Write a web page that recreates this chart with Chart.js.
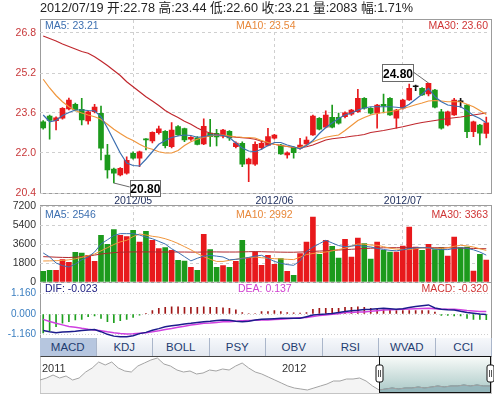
<!DOCTYPE html>
<html>
<head>
<meta charset="utf-8">
<title>K线图</title>
<script src="https://cdn.jsdelivr.net/npm/chart.js@4.4.1/dist/chart.umd.min.js"></script>
<style>
  body { margin: 0; background: #fff; }
  #wrap { position: relative; width: 494px; height: 396px; overflow: hidden;
    font-family: Arial, "Liberation Sans", "Noto Sans CJK SC", sans-serif; }
  #wrap canvas { position: absolute; left: 0; top: 0; }
  .box { position: absolute; box-sizing: border-box; border: 1px solid #9c9c9c; }
  .lbl { position: absolute; font-size: 10.5px; line-height: 12px; white-space: nowrap; }
  #title { position: absolute; left: 40px; top: 0; font-size: 12.7px; line-height: 16px; color: #222; white-space: nowrap; }
  #tabs { position: absolute; left: 40px; top: 338px; width: 452px; height: 18px; display: flex; }
  #tabs div { flex: 1; text-align: center; font-size: 11.5px; line-height: 18px; color: #1e3c70;
    background: linear-gradient(#f6f8fb, #e3e8f0); border-right: 1px solid #aab6ca; box-sizing: border-box; }
  #tabs div.on { background: #b6c6df; }
</style>
</head>
<body>
<div id="wrap">
  <div class="box" style="left:40px;top:19px;width:452px;height:175px;"></div>
  <div class="box" style="left:40px;top:205px;width:452px;height:78px;"></div>
  <div class="box" style="left:40px;top:282px;width:452px;height:57px;"></div>
  <div class="box" style="left:40px;top:356px;width:452px;height:38px;border-color:#c4c4c4;border-top-color:#444;"></div>

  <canvas id="price" width="494" height="396"></canvas>
  <canvas id="vol" width="494" height="396"></canvas>
  <canvas id="macd" width="494" height="396"></canvas>
  <canvas id="nav" width="494" height="396"></canvas>

  <div id="title">2012/07/19 开:22.78 高:23.44 低:22.60 收:23.21 量:2083 幅:1.71%</div>

  <div class="lbl" style="left:45px;top:19px;color:#3c6fb0;">MA5: 23.21</div>
  <div class="lbl" style="left:236px;top:19px;color:#e8883a;">MA10: 23.54</div>
  <div class="lbl" style="right:6px;top:19px;color:#cf3535;">MA30: 23.60</div>

  <div class="lbl" style="left:45px;top:208px;color:#3c6fb0;">MA5: 2546</div>
  <div class="lbl" style="left:236px;top:208px;color:#e8883a;">MA10: 2992</div>
  <div class="lbl" style="right:6px;top:208px;color:#cf3535;">MA30: 3363</div>

  <div class="lbl" style="left:45px;top:282px;color:#1c1c80;">DIF: -0.023</div>
  <div class="lbl" style="left:238px;top:282px;color:#d040d0;">DEA: 0.137</div>
  <div class="lbl" style="right:6px;top:282px;color:#cf3535;">MACD: -0.320</div>

  <div id="tabs">
    <div class="on">MACD</div><div>KDJ</div><div>BOLL</div><div>PSY</div>
    <div>OBV</div><div>RSI</div><div>WVAD</div><div>CCI</div>
  </div>

  <div class="lbl" style="left:42px;top:362px;color:#333;font-size:11px;">2011</div>
  <div class="lbl" style="left:282px;top:362px;color:#333;font-size:11px;">2012</div>
</div>

<script>
// trading days shown in the main window
const dates = [
  '2012/04/10','2012/04/11','2012/04/12','2012/04/13','2012/04/16','2012/04/17','2012/04/18',
  '2012/04/19','2012/04/20','2012/04/23','2012/04/24','2012/04/25','2012/04/26','2012/04/27',
  '2012/05/02','2012/05/03','2012/05/04','2012/05/07','2012/05/08','2012/05/09','2012/05/10',
  '2012/05/11','2012/05/14','2012/05/15','2012/05/16','2012/05/17','2012/05/18','2012/05/21',
  '2012/05/22','2012/05/23','2012/05/24','2012/05/25','2012/05/28','2012/05/29','2012/05/30',
  '2012/05/31','2012/06/01','2012/06/04','2012/06/05','2012/06/06','2012/06/07','2012/06/08',
  '2012/06/11','2012/06/12','2012/06/13','2012/06/14','2012/06/15','2012/06/18','2012/06/19',
  '2012/06/20','2012/06/21','2012/06/25','2012/06/26','2012/06/27','2012/06/28','2012/06/29',
  '2012/07/02','2012/07/03','2012/07/04','2012/07/05','2012/07/06','2012/07/09','2012/07/10',
  '2012/07/11','2012/07/12','2012/07/13','2012/07/16','2012/07/17','2012/07/18','2012/07/19'
];

const open = [23.25,23.48,23.29,23.39,23.76,23.95,23.75,23.28,23.65,23.59,
  21.92,21.36,21.12,21.19,21.99,21.79,22.57,22.48,22.81,22.87,
  22.25,23.06,22.98,22.55,22.61,22.36,22.80,22.79,22.67,22.87,
  22.25,22.39,21.56,21.55,22.21,22.30,22.59,22.32,21.92,22.23,
  22.19,22.36,22.72,23.39,23.03,23.43,23.43,23.45,23.55,23.65,
  24.19,23.79,23.59,23.95,24.19,23.39,23.79,24.12,24.65,24.59,
  24.36,24.52,23.65,23.12,23.52,24.05,23.92,22.85,23.12,22.78];
const high = [23.30,23.52,23.45,23.82,24.20,24.00,24.19,23.68,23.95,23.88,
  22.35,21.40,21.42,21.85,22.05,22.08,22.58,22.85,23.08,22.90,
  23.22,23.10,23.00,22.66,22.66,23.37,23.35,22.95,22.95,22.90,
  22.45,22.45,21.80,22.45,22.50,22.99,22.75,22.35,22.05,22.26,
  22.59,22.65,23.52,23.42,23.69,23.92,23.60,23.65,23.75,24.55,
  24.22,23.82,23.95,24.36,24.22,23.75,24.15,24.76,24.72,24.62,
  24.80,24.55,23.75,23.68,24.19,24.19,23.95,23.28,23.15,23.44];
const low = [22.95,22.55,22.92,23.35,23.72,23.68,23.12,23.15,23.60,21.72,
  20.99,20.80,21.08,21.15,21.75,21.45,22.12,22.40,22.75,22.20,
  22.20,22.70,22.45,22.50,22.32,22.33,22.26,22.28,22.60,22.50,
  22.20,21.45,20.85,21.50,22.15,22.28,22.55,21.94,21.79,21.79,
  22.15,22.33,22.70,22.92,23.00,23.00,23.15,23.40,23.50,23.62,
  23.75,23.55,22.99,23.60,23.50,22.99,23.75,24.10,24.49,24.30,
  24.28,23.80,22.95,23.08,23.50,23.83,22.61,22.65,22.32,22.60];
const close = [23.00,23.30,23.41,23.79,24.12,23.72,23.32,23.65,23.84,22.19,
  21.32,21.19,21.39,21.71,21.79,22.05,22.52,22.83,22.97,22.29,
  22.92,22.72,22.52,22.63,22.34,23.07,22.65,22.64,22.92,22.60,
  22.40,21.55,21.76,22.35,22.39,22.66,22.72,21.96,22.01,22.01,
  22.32,22.52,23.48,22.95,23.52,23.03,23.19,23.61,23.72,24.19,
  23.79,23.59,23.92,23.88,23.52,23.72,24.12,24.59,24.65,24.32,
  24.79,23.83,22.99,23.65,24.12,24.05,22.85,23.25,22.79,23.21];

const ma5 = [23.52,23.25,23.30,23.50,23.62,23.72,23.72,23.70,23.69,23.45,
  23.00,22.50,22.00,21.60,21.50,21.48,21.75,22.05,22.35,22.50,
  22.62,22.68,22.72,22.70,22.63,22.65,22.72,22.72,22.70,22.62,
  22.40,22.20,22.08,22.05,22.15,22.30,22.42,22.42,22.32,22.25,
  22.17,22.30,22.50,22.78,23.02,23.20,23.38,23.52,23.60,23.72,
  23.80,23.85,23.85,23.85,23.85,23.83,23.80,23.95,24.15,24.35,
  24.58,24.25,24.05,23.92,23.88,23.85,23.70,23.50,23.38,23.21];
const ma10 = [24.95,24.60,24.30,24.05,23.85,23.70,23.60,23.52,23.45,23.35,
  23.15,22.95,22.78,22.62,22.50,22.35,22.22,22.15,22.05,22.00,
  22.00,22.10,22.30,22.45,22.55,22.63,22.68,22.71,22.72,22.68,
  22.65,22.63,22.62,22.60,22.50,22.42,22.35,22.30,22.26,22.23,
  22.22,22.32,22.45,22.55,22.63,22.68,22.72,22.90,23.10,23.30,
  23.42,23.52,23.58,23.62,23.65,23.70,23.78,23.85,23.93,24.00,
  24.08,24.10,24.08,24.05,24.05,24.05,23.95,23.85,23.70,23.54];
const ma30 = [26.68,26.58,26.48,26.36,26.26,26.16,26.06,25.99,25.85,25.68,
  25.50,25.30,25.10,24.85,24.65,24.45,24.25,24.08,23.90,23.70,
  23.55,23.42,23.27,23.15,23.00,22.88,22.80,22.74,22.70,22.66,
  22.63,22.61,22.59,22.55,22.47,22.40,22.35,22.30,22.26,22.22,
  22.21,22.25,22.32,22.42,22.52,22.57,22.60,22.63,22.67,22.70,
  22.74,22.82,22.86,22.90,22.95,23.00,23.05,23.11,23.17,23.22,
  23.26,23.30,23.34,23.38,23.41,23.44,23.48,23.52,23.56,23.60];

const volume = [1010,1105,1105,2115,1863,2810,2747,2526,1958,4420,
  3568,4958,4420,4295,4895,3789,4800,3947,3158,3253,
  3000,2052,1989,1389,1105,4516,3063,1389,1547,1389,
  1958,3947,2300,2842,1579,2526,1674,2210,1010,632,
  2684,3789,6158,2621,3947,3379,2274,4042,2368,4168,
  3632,2179,3789,3000,2842,2842,3411,5211,3316,3000,
  3568,3063,3253,2463,4263,3253,3316,1042,2621,2083];
const volMa5 = [2750,2370,1800,1550,1420,1700,2100,2370,2840,3600,
  4000,4400,4580,4580,4580,4450,4250,4100,3850,3600,
  3150,2800,2400,2000,2250,2450,2520,2450,2370,2100,
  2150,2210,2330,2450,2530,2250,1950,1780,1650,1580,
  2000,2900,3300,3630,3950,3700,3450,3350,3400,3480,
  3380,3320,3180,3080,3000,2950,3050,3160,3240,3250,
  3250,3120,3070,3070,3180,3250,3180,3050,2840,2546];
const volMa10 = [1990,2000,2020,2040,2100,2200,2330,2500,2650,2950,
  3250,3550,3800,3950,4300,4550,4450,4330,4250,4100,
  3900,3650,3350,3050,2700,2400,2150,1950,1950,2050,
  2150,2250,2300,2370,2300,2250,2210,2180,2150,2120,
  2350,2600,2700,2780,2840,2950,3080,3200,3400,3600,
  3580,3500,3480,3350,3200,3120,3080,3070,3150,3240,
  3220,3180,3160,3250,3380,3480,3420,3320,3150,2992];
const volMa30 = [2400,2380,2350,2330,2320,2350,2400,2450,2550,2650,
  2720,2780,2820,2840,2850,2850,2850,2850,2840,2840,
  2840,2840,2840,2830,2830,2840,2850,2850,2840,2840,
  2840,2850,2870,2880,2870,2850,2840,2830,2820,2820,
  2840,2860,2900,2930,2960,3000,3030,3070,3100,3140,
  3170,3200,3220,3240,3250,3250,3250,3260,3260,3250,
  3250,3250,3240,3240,3230,3220,3200,3180,3160,3150];

const dif = [-0.93,-1.00,-1.05,-1.01,-0.99,-0.97,-0.93,-0.90,-0.87,-0.99,
  -1.14,-1.24,-1.27,-1.28,-1.22,-1.10,-1.03,-0.91,-0.82,-0.71,
  -0.66,-0.61,-0.56,-0.52,-0.47,-0.43,-0.40,-0.36,-0.33,-0.35,
  -0.40,-0.43,-0.40,-0.34,-0.30,-0.28,-0.26,-0.24,-0.24,-0.24,
  -0.24,-0.15,-0.06,-0.02,0.00,0.03,0.08,0.14,0.19,0.21,
  0.25,0.27,0.30,0.32,0.30,0.27,0.29,0.36,0.42,0.47,
  0.51,0.34,0.27,0.24,0.23,0.15,0.08,0.04,0.00,-0.023];
const dea = [-0.30,-0.42,-0.52,-0.61,-0.70,-0.74,-0.80,-0.85,-0.89,-0.94,
  -1.00,-1.05,-1.09,-1.12,-1.11,-1.08,-1.05,-1.00,-0.94,-0.87,
  -0.81,-0.74,-0.68,-0.62,-0.58,-0.52,-0.50,-0.47,-0.44,-0.43,
  -0.40,-0.38,-0.36,-0.35,-0.33,-0.33,-0.31,-0.30,-0.27,-0.24,
  -0.21,-0.19,-0.14,-0.09,-0.05,-0.02,0.02,0.08,0.09,0.11,
  0.12,0.15,0.19,0.22,0.24,0.25,0.27,0.28,0.30,0.31,
  0.32,0.29,0.27,0.27,0.27,0.24,0.20,0.17,0.14,0.137];
const macdHist = [-1.06,-0.93,-0.71,-0.52,-0.43,-0.33,-0.30,-0.15,-0.11,-0.24,
  -0.43,-0.49,-0.37,-0.30,-0.19,-0.06,0.02,0.19,0.32,0.37,
  0.41,0.41,0.37,0.37,0.37,0.41,0.37,0.37,0.35,0.32,
  0.23,0.08,0.03,0.03,0.13,0.13,0.19,0.13,0.08,0.06,
  0.05,0.08,0.27,0.32,0.32,0.32,0.32,0.37,0.37,0.41,
  0.37,0.32,0.27,0.23,0.23,0.19,0.19,0.19,0.19,0.19,
  0.19,0.11,-0.08,-0.08,-0.11,-0.11,-0.24,-0.30,-0.30,-0.32];

// navigator: long history 2011 - 2012/07 (relative level)
const navValues = [15,17,20,17,19,15,17,23,27,33,30,33,27,24,23,29,32,35,37,31,
  29,25,23,24,21,22,25,24,26,25,29,32,27,23,21,18,15,12,9,7,
  6,5,7,9,11,14,14,16,16,17,14,9,5,6,7,6,7,7,8,7,
  8,9,8,9,9,10,9,10,9,9];
const navSelStart = 52;

const priceTicks = [20.4, 22.0, 23.6, 25.2, 26.8];
const volTicks = [0, 1800, 3600, 5400, 7200];
const macdTicks = [-1.16, 0, 1.16];

const RED = '#e8191c', GREEN = '#1c9a1c', DOJI = '#111111';
const GRID = '#cfcfcf';

const candleColor = close.map((c, i) => c > open[i] ? RED : (c < open[i] ? GREEN : DOJI));
const volColor = close.map((c, i) => c > open[i] ? RED : (c < open[i] ? GREEN : (c >= close[i - 1] ? RED : GREEN)));
const isMonthStart = i => i > 0 && dates[i].slice(5, 7) !== dates[i - 1].slice(5, 7);

function baseOptions(padTop, padBottom) {
  return {
    responsive: false,
    animation: false,
    events: [],
    layout: { padding: { top: padTop, bottom: padBottom, left: 0, right: 4.5 } },
    plugins: { legend: { display: false }, tooltip: { enabled: false } }
  };
}

function lineSet(data, color, width) {
  return { type: 'line', data: data, borderColor: color, borderWidth: width || 1.2,
    pointRadius: 0, tension: 0, fill: false, order: 0 };
}

function monthXAxis(showLabels) {
  return {
    offset: true,
    grid: { offset: false, drawTicks: false, color: c => isMonthStart(c.index) ? GRID : 'transparent' },
    border: { display: false, dash: [3, 3] },
    ticks: {
      display: showLabels, autoSkip: false, maxRotation: 0, padding: 2,
      color: '#1c2c5c', font: { size: 10.5 },
      callback: (v, i) => isMonthStart(i) ? dates[i].slice(0, 7) : ''
    },
    afterFit: s => { s.height = showLabels ? 17 : 0; }
  };
}

function fixedYAxis(min, max, ticks, color, fmt, dash) {
  return {
    min: min, max: max,
    afterBuildTicks: ax => { ax.ticks = ticks.map(v => ({ value: v })); },
    afterFit: s => { s.width = 40; },
    grid: { color: GRID, drawTicks: false },
    border: { display: false, dash: dash },
    ticks: { padding: 4, color: color, font: { size: 10.5 }, callback: fmt }
  };
}

// labels for highest / lowest price
function drawTag(ctx, bx, by, w, h, text, lx, ly, px, py) {
  ctx.strokeStyle = '#6a6a6a';
  ctx.lineWidth = 1;
  ctx.beginPath();
  ctx.moveTo(px, py);
  ctx.lineTo(lx, ly);
  ctx.stroke();
  ctx.fillStyle = '#fff';
  ctx.fillRect(bx, by, w, h);
  ctx.strokeRect(Math.round(bx) + 0.5, Math.round(by) + 0.5, w - 1, h - 1);
  ctx.fillStyle = '#000';
  ctx.fillText(text, bx + w / 2, by + h / 2 + 1);
}

const extremesPlugin = {
  id: 'extremes',
  afterDatasetsDraw(chart) {
    const { ctx, scales: { x, y } } = chart;
    const hi = high.indexOf(Math.max(...high));
    const lo = low.indexOf(Math.min(...low));
    ctx.save();
    ctx.font = 'bold 12px Arial, "Liberation Sans", sans-serif';
    ctx.textAlign = 'center';
    ctx.textBaseline = 'middle';
    let px = x.getPixelForValue(hi), py = y.getPixelForValue(high[hi]);
    drawTag(ctx, px - 46.5, py - 18.5, 32, 18, high[hi].toFixed(2), px - 14.5, py - 10.5, px, py);
    px = x.getPixelForValue(lo); py = y.getPixelForValue(low[lo]);
    drawTag(ctx, px + 16, py - 3, 31, 17, low[lo].toFixed(2), px + 16, py + 4, px, py);
    ctx.restore();
  }
};

// price panel
const priceOpts = baseOptions(20, 186);
priceOpts.scales = {
  x: monthXAxis(true),
  y: fixedYAxis(20.4, 27.32, priceTicks, '#c8383a', v => v.toFixed(1), [3, 3])
};
new Chart(document.getElementById('price'), {
  type: 'bar',
  data: {
    labels: dates,
    datasets: [
      lineSet(ma5, '#3c6fb0'),
      lineSet(ma10, '#f0963c'),
      lineSet(ma30, '#c0282e'),
      { data: low.map((l, i) => [l, high[i]]), backgroundColor: candleColor, barThickness: 1,
        grouped: false, borderWidth: 0, order: 2 },
      { data: open.map((o, i) => [o, close[i]]), backgroundColor: candleColor, barThickness: 5,
        minBarLength: 1, grouped: false, borderWidth: 0, order: 1 }
    ]
  },
  options: priceOpts,
  plugins: [extremesPlugin]
});

// volume panel
const volOpts = baseOptions(206, 114);
volOpts.scales = {
  x: monthXAxis(false),
  y: fixedYAxis(0, 7200, volTicks, '#333', v => String(v), [3, 3])
};
new Chart(document.getElementById('vol'), {
  type: 'bar',
  data: {
    labels: dates,
    datasets: [
      lineSet(volMa5, '#3c6fb0', 1),
      lineSet(volMa10, '#f0963c', 1),
      lineSet(volMa30, '#b0282c', 1),
      { data: volume, backgroundColor: volColor, barThickness: 5, borderWidth: 0, order: 1 }
    ]
  },
  options: volOpts
});

// MACD panel
const macdOpts = baseOptions(283, 58);
macdOpts.scales = {
  x: { display: false, offset: true },
  y: fixedYAxis(-1.345, 1.74, macdTicks, '#3a7ec0', v => v.toFixed(3), [1, 2])
};
macdOpts.scales.y.ticks.font = { size: 10 };
new Chart(document.getElementById('macd'), {
  type: 'bar',
  data: {
    labels: dates,
    datasets: [
      lineSet(dif, '#1c1c8c', 1.5),
      lineSet(dea, '#d040e0', 1.5),
      { data: macdHist, backgroundColor: macdHist.map(v => v >= 0 ? '#a01818' : '#1ea01e'),
        barThickness: 1, borderWidth: 0, order: 1 }
    ]
  },
  options: macdOpts
});

// navigator
const navPlugin = {
  id: 'navSel',
  beforeDatasetsDraw(chart) {
    const { ctx, chartArea: a, scales: { x } } = chart;
    const x0 = x.getPixelForValue(navSelStart);
    const g = ctx.createLinearGradient(0, a.top, 0, a.bottom);
    g.addColorStop(0, '#f7faf8');
    g.addColorStop(1, '#a9c8c6');
    ctx.fillStyle = g;
    ctx.fillRect(x0, a.top, a.right - x0, a.bottom - a.top);
  },
  afterDatasetsDraw(chart) {
    const { ctx, chartArea: a, scales: { x } } = chart;
    const x0 = Math.round(x.getPixelForValue(navSelStart)) + 0.5;
    const x1 = Math.round(a.right) + 0.5;
    ctx.save();
    ctx.strokeStyle = '#111';
    ctx.lineWidth = 1;
    ctx.strokeRect(x0, a.top - 0.5, x1 - x0, a.bottom - a.top);
    [x0, x1].forEach(hx => {
      const hy = a.top + 8;
      ctx.fillStyle = '#fff';
      ctx.beginPath();
      ctx.roundRect(hx - 3.5, hy, 7, 17, 2);
      ctx.fill();
      ctx.stroke();
      ctx.strokeStyle = '#555';
      ctx.beginPath();
      ctx.moveTo(hx - 1, hy + 5); ctx.lineTo(hx - 1, hy + 12);
      ctx.moveTo(hx + 1, hy + 5); ctx.lineTo(hx + 1, hy + 12);
      ctx.stroke();
      ctx.strokeStyle = '#111';
    });
    ctx.restore();
  }
};
const navOpts = baseOptions(357, 3);
navOpts.layout.padding.left = 40;
navOpts.layout.padding.right = 4;
navOpts.scales = {
  x: { display: false, offset: false },
  y: { display: false, min: 2, max: 38 }
};
new Chart(document.getElementById('nav'), {
  type: 'line',
  data: {
    labels: navValues.map((v, i) => i),
    datasets: [
      { data: navValues, borderColor: '#a4a4a4', borderWidth: 1, pointRadius: 0,
        fill: 'start', backgroundColor: 'rgba(220,220,220,0.3)' },
      { data: navValues.map((v, i) => i >= navSelStart ? v : null), borderColor: '#4f7f88',
        borderWidth: 1, pointRadius: 0, fill: 'start', backgroundColor: 'rgba(104,156,166,0.8)' }
    ]
  },
  options: navOpts,
  plugins: [navPlugin]
});
</script>
</body>
</html>
